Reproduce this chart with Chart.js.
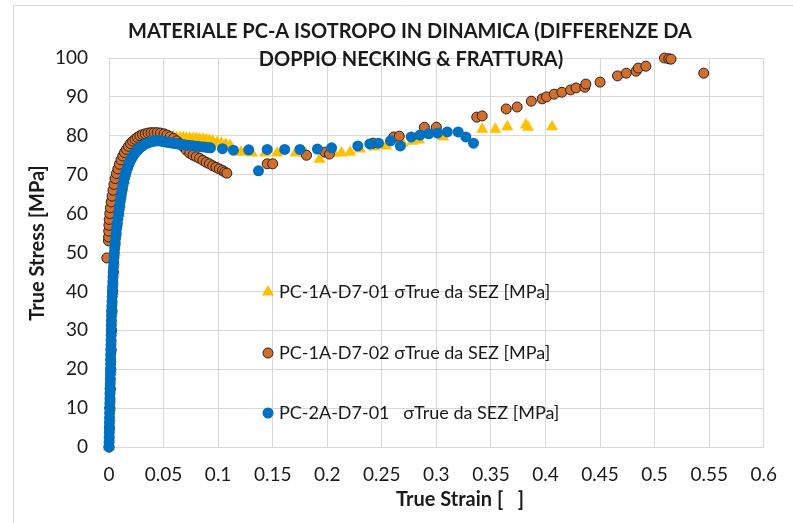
<!DOCTYPE html>
<html lang="it">
<head>
<meta charset="utf-8">
<script src="https://cdn.jsdelivr.net/npm/chart.js@4.4.0/dist/chart.umd.min.js"></script>
<style>
    html, body { margin: 0; padding: 0; background: #fff; }
</style>
</head>
<body>

<canvas id="chart" width="793" height="523"></canvas>

<script>
    // chart text
    const titleLines = ['MATERIALE PC-A ISOTROPO IN DINAMICA (DIFFERENZE DA', 'DOPPIO NECKING & FRATTURA)'];
    const xTitle = 'True Strain [   ]';
    const yTitle = 'True Stress [MPa]';
    const seriesNames = [
        'PC-1A-D7-01 σTrue da SEZ [MPa]',
        'PC-1A-D7-02 σTrue da SEZ [MPa]',
        'PC-2A-D7-01   σTrue da SEZ [MPa]'
    ];

    // axis ranges / ticks
    const xMin = 0, xMax = 0.6, xStep = 0.05;
    const yMin = 0, yMax = 100, yStep = 10;

    // PC-1A-D7-01 (yellow triangles)
    const yellowStrain = [
        0, 0.0008, 0.0009, 0.0011, 0.0013, 0.0015, 0.0016, 0.0018, 0.002, 0.0021,
        0.0023, 0.0025, 0.0027, 0.0028, 0.003, 0.0034, 0.0037, 0.0041, 0.0045, 0.0049,
        0.0055, 0.0063, 0.0072, 0.0082, 0.0095, 0.0104, 0.0114, 0.0126, 0.0139, 0.0153,
        0.0168, 0.0184, 0.0201, 0.0219, 0.0238, 0.0258, 0.028, 0.0302, 0.0325, 0.035,
        0.0375, 0.04, 0.0425, 0.045, 0.0475, 0.05, 0.053, 0.056, 0.059, 0.062, 0.065,
        0.068, 0.071, 0.074, 0.077, 0.08, 0.083, 0.086, 0.089, 0.092, 0.095, 0.099, 0.103, 0.107, 0.111,
        0.121, 0.131, 0.143, 0.154, 0.171, 0.18, 0.193, 0.206, 0.213, 0.221, 0.23, 0.243, 0.254,
        0.269, 0.278, 0.284, 0.306, 0.342, 0.354, 0.365, 0.382, 0.384, 0.406
    ];
    const yellowStress = [
        0, 2.5, 5, 7.5, 10, 12.5, 15, 17.5, 20, 22.5,
        25, 27.5, 30, 32.5, 35, 37.5, 40, 42.5, 45, 47.5,
        50, 52.5, 55, 57.5, 60, 62.3, 64.5, 66.5, 68.5, 70.3,
        72, 73.5, 74.8, 75.9, 76.8, 77.6, 78.2, 78.7, 79.1, 79.4,
        79.6, 79.7, 79.8, 79.8, 79.8, 79.7, 79.7, 79.6, 79.6, 79.5, 79.5,
        79.5, 79.4, 79.4, 79.3, 79.3, 79.2, 79.1, 79, 78.8, 78.6, 78.3, 78.1, 77.8, 77.5,
        75.8, 75.6, 75.6, 75.6, 75.6, 75.5, 74.0, 75.6, 75.6, 75.8, 76.6, 77.1, 77.4,
        78.1, 78.6, 78.9, 79.7, 81.7, 81.7, 82.3, 82.8, 82.2, 82.3
    ];

    // PC-1A-D7-02 (orange circles)
    const orangeStrain = [
        0, 0.0004, 0.0008, 0.0012, 0.0016, 0.002, 0.0024, 0.0028, 0.0034, 0.004,
        -0.002, -0.0005, -0.0004, -0.0003, -0.0001, 0.0002, 0.0007, 0.0013, 0.002, 0.0028,
        0.0036, 0.0045, 0.0056, 0.0068, 0.0081, 0.0095, 0.011, 0.0126, 0.0142, 0.016,
        0.0178, 0.0197, 0.0217, 0.0238, 0.026, 0.0283, 0.0307, 0.0332, 0.0358, 0.0385,
        0.0413, 0.0442, 0.0472, 0.0503, 0.053, 0.056, 0.059, 0.062, 0.065, 0.068,
        0.071, 0.074, 0.077, 0.08, 0.083, 0.086, 0.089, 0.092, 0.095, 0.098,
        0.101, 0.104, 0.106, 0.108,
        0.145, 0.15, 0.181, 0.198, 0.202, 0.242, 0.261, 0.266, 0.289, 0.3,
        0.337, 0.342, 0.364, 0.374, 0.387, 0.397, 0.401, 0.408, 0.415, 0.423,
        0.428, 0.436, 0.437, 0.45, 0.466, 0.474, 0.483, 0.485, 0.492, 0.509,
        0.513, 0.515, 0.545
    ];
    const orangeStress = [
        0, 5, 10, 15, 20, 25, 30, 35, 40, 45,
        48.6, 53, 54, 55.5, 57, 58.5, 60, 61.5, 63, 64.5,
        66, 67.5, 69, 70.3, 71.5, 72.7, 73.8, 74.8, 75.7, 76.5,
        77.3, 78, 78.6, 79.1, 79.6, 80, 80.3, 80.5, 80.7, 80.8,
        80.8, 80.8, 80.7, 80.5, 80.2, 79.8, 79.3, 78.7, 78, 77.2,
        76.3, 75.5, 75, 74.6, 74.2, 73.7, 73.2, 72.8, 72.3, 71.9,
        71.5, 71.1, 70.7, 70.4,
        72.8, 72.8, 75.0, 75.8, 75.3, 78.1, 79.7, 79.9, 82.2, 82.2,
        84.8, 85.1, 86.9, 87.4, 88.9, 89.5, 90.0, 90.7, 91.2, 91.8,
        92.3, 92.5, 93.3, 93.8, 95.4, 96.1, 96.6, 97.4, 97.9, 100,
        99.8, 99.7, 96.1
    ];

    // PC-2A-D7-01 (blue circles)
    const blueStrain = [
        0, 0.0001, 0.0002, 0.0003, 0.0003, 0.0004, 0.0005, 0.0006, 0.0007, 0.0008,
        0.0009, 0.0009, 0.001, 0.0011, 0.0012, 0.0013, 0.0014, 0.0015, 0.0015, 0.0016,
        0.0017, 0.0018, 0.0019, 0.002, 0.0021, 0.0021, 0.0022, 0.0023, 0.0024, 0.0026,
        0.0028, 0.003, 0.0031, 0.0033, 0.0035, 0.0037, 0.0039, 0.0041, 0.0043, 0.0046,
        0.0049, 0.0053, 0.0057, 0.0061, 0.0066, 0.0071, 0.0076, 0.0082, 0.0089,
        0.0094, 0.0099, 0.0104, 0.011, 0.0116, 0.0122, 0.0128, 0.0135, 0.0142, 0.0149,
        0.0157, 0.0165, 0.0173, 0.0182, 0.0191, 0.0201, 0.0211, 0.0222, 0.0233, 0.0245,
        0.0258, 0.0271, 0.0285, 0.03, 0.0316, 0.0333, 0.035, 0.0368, 0.0387, 0.0406,
        0.0426, 0.0446, 0.0466, 0.0486, 0.0506, 0.0526, 0.0546, 0.0566, 0.0586, 0.0606,
        0.063, 0.066, 0.069, 0.072, 0.075, 0.078, 0.081, 0.084, 0.087, 0.09, 0.093,
        0.104, 0.114, 0.128, 0.137, 0.145, 0.161, 0.175, 0.191, 0.204, 0.228, 0.239,
        0.247, 0.258, 0.267, 0.277, 0.285, 0.293, 0.301, 0.31, 0.32, 0.327, 0.334
    ];
    const blueStress = [
        0, 1.25, 2.5, 3.75, 5, 6.25, 7.5, 8.75, 10, 11.25,
        12.5, 13.75, 15, 16.25, 17.5, 18.75, 20, 21.25, 22.5, 23.75,
        25, 26.25, 27.5, 28.75, 30, 31.25, 32.5, 33.75, 35, 36.25,
        37.5, 38.75, 40, 41.25, 42.5, 43.75, 45, 46.25, 47.5, 48.75,
        50, 51.25, 52.5, 53.75, 55, 56.25, 57.5, 58.75, 60,
        61.1, 62.2, 63.3, 64.4, 65.4, 66.4, 67.3, 68.2, 69.1, 69.9,
        70.7, 71.4, 72.1, 72.7, 73.3, 73.9, 74.4, 74.9, 75.4, 75.8,
        76.2, 76.6, 77, 77.3, 77.6, 77.9, 78.1, 78.3, 78.5, 78.6,
        78.7, 78.7, 78.7, 78.6, 78.5, 78.4, 78.3, 78.2, 78.1, 78,
        77.9, 77.8, 77.7, 77.6, 77.5, 77.4, 77.3, 77.2, 77.1, 77, 76.9,
        76.7, 76.3, 76.4, 71.0, 76.5, 76.5, 76.5, 76.6, 76.9, 77.4, 77.9,
        78.1, 78.7, 77.4, 79.7, 80.2, 80.5, 80.7, 81.0, 81.0, 79.7, 78.1
    ];

    const FONT = 'Lato, "Open Sans", "DejaVu Sans", sans-serif';
    const TEXT = '#1a1a1a';
    const GRID = '#d9d9d9';

    function toPoints(xs, ys) {
        return xs.map((x, i) => ({ x: x, y: ys[i] }));
    }

    // white page, chart frame, titles and the in-plot legend
    const decor = {
        id: 'decor',
        beforeDraw(chart) {
            const ctx = chart.ctx;
            ctx.save();
            ctx.fillStyle = '#fff';
            ctx.fillRect(0, 0, chart.width, chart.height);
            ctx.strokeStyle = GRID;
            ctx.lineWidth = 1;
            ctx.beginPath();
            ctx.moveTo(13.5, chart.height);
            ctx.lineTo(13.5, 5.5);
            ctx.lineTo(chart.width, 5.5);
            ctx.stroke();
            ctx.restore();
        },
        beforeDatasetsDraw(chart) {
            const ctx = chart.ctx;
            ctx.save();
            ctx.fillStyle = TEXT;
            ctx.font = 'bold 20px ' + FONT;
            ctx.textAlign = 'center';
            ctx.textBaseline = 'middle';
            ctx.fillText(titleLines[0], 410, 32);
            ctx.fillText(titleLines[1], 411, 60);
            // axis titles
            ctx.fillText(xTitle, 460, 500);
            ctx.translate(38, 243);
            ctx.rotate(-Math.PI / 2);
            ctx.fillText(yTitle, 0, 0);
            ctx.restore();
        },
        afterDatasetsDraw(chart) {
            const ctx = chart.ctx;
            const area = chart.chartArea;
            const x0 = area.left + 159;
            const rows = [area.top + 234, area.top + 295, area.top + 355];
            ctx.save();
            ctx.font = '18px ' + FONT;
            ctx.textBaseline = 'middle';
            ctx.textAlign = 'left';
            chart.data.datasets.forEach((ds, i) => {
                const y = rows[i];
                ctx.fillStyle = ds.backgroundColor;
                ctx.strokeStyle = ds.borderColor;
                ctx.lineWidth = ds.borderWidth || 0;
                Chart.helpers.drawPoint(ctx, {
                    pointStyle: ds.pointStyle,
                    radius: ds.pointRadius,
                    rotation: 0,
                    borderWidth: ds.borderWidth || 0
                }, x0, y);
                ctx.fillStyle = TEXT;
                ctx.fillText(seriesNames[i], x0 + 11, y);
            });
            ctx.restore();
        }
    };

    new Chart(document.getElementById('chart'), {
        type: 'scatter',
        data: {
            datasets: [
                {
                    label: seriesNames[0],
                    data: toPoints(yellowStrain, yellowStress),
                    pointStyle: 'triangle',
                    pointRadius: 7,
                    backgroundColor: '#FFC000',
                    borderColor: '#FFC000',
                    borderWidth: 0,
                    order: 2,
                    clip: false
                },
                {
                    label: seriesNames[1],
                    data: toPoints(orangeStrain, orangeStress),
                    pointStyle: 'circle',
                    pointRadius: 5,
                    backgroundColor: '#D36F2C',
                    borderColor: '#2b2118',
                    borderWidth: 1,
                    order: 1,
                    clip: false
                },
                {
                    label: seriesNames[2],
                    data: toPoints(blueStrain, blueStress),
                    pointStyle: 'circle',
                    pointRadius: 5.5,
                    backgroundColor: '#0070C0',
                    borderColor: '#0070C0',
                    borderWidth: 0,
                    order: 0,
                    clip: false
                }
            ]
        },
        options: {
            responsive: false,
            animation: false,
            layout: { padding: { left: 0, top: 58, right: 20, bottom: 0 } },
            plugins: {
                legend: { display: false },
                title: { display: false },
                tooltip: { enabled: false }
            },
            scales: {
                x: {
                    type: 'linear',
                    min: xMin,
                    max: xMax,
                    afterFit: (scale) => { scale.height = 76; },
                    ticks: {
                        stepSize: xStep,
                        padding: 16,
                        color: TEXT,
                        font: { family: FONT, size: 19 },
                        callback: (v) => String(Number(v.toFixed(2)))
                    },
                    grid: { color: GRID, drawTicks: false },
                    border: { color: GRID }
                },
                y: {
                    min: yMin,
                    max: yMax,
                    afterFit: (scale) => { scale.width = 109; },
                    ticks: {
                        stepSize: yStep,
                        padding: 21,
                        color: TEXT,
                        font: { family: FONT, size: 19 }
                    },
                    grid: { color: GRID, drawTicks: false },
                    border: { color: GRID }
                }
            }
        },
        plugins: [decor]
    });
</script>

</body>
</html>
